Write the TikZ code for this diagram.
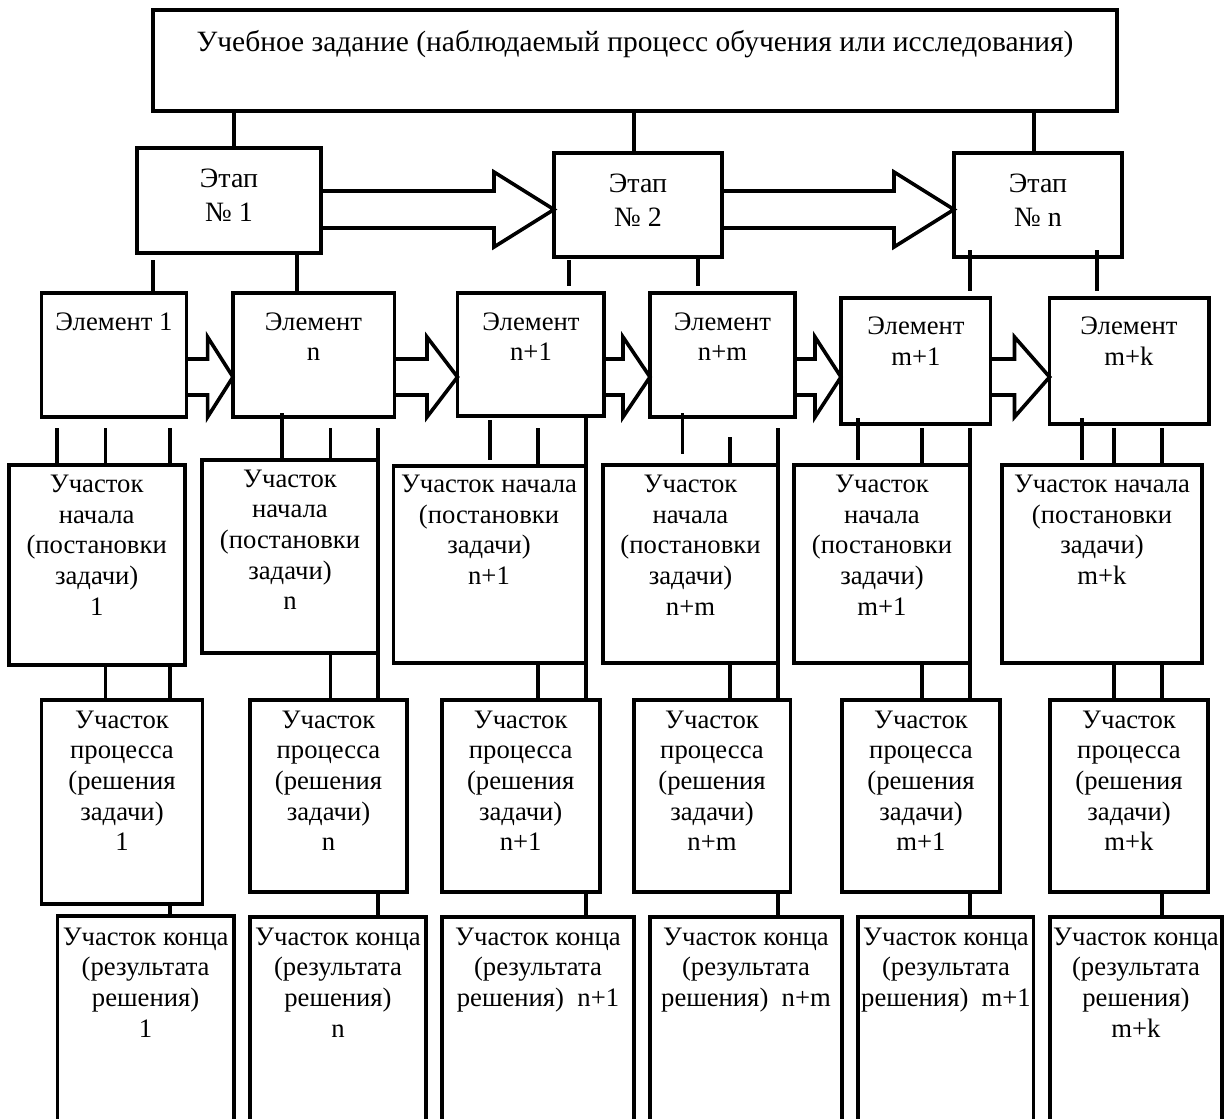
\documentclass[tikz,border=0pt]{standalone}
\usepackage{fontspec}
\setmainfont{Liberation Serif}
\usetikzlibrary{calc}

% box with corners (x1,y1) and (x2,y2), y measured downwards
\newcommand\blk[5]{\node[frame, minimum width={(#4-#2)*0.75pt}, minimum height={(#5-#3)*0.75pt}] (#1) at (#2,#3) {};}
% hollow block arrow from node #1 to node #2: head base x, centre y, half body, half head
\newcommand\fatarrow[6]{\draw[wire, line join=miter]
  (#1.east |- 0,#4-#5) -- (#3,#4-#5) -- (#3,#4-#6) -- (#2.west |- 0,#4)
  -- (#3,#4+#6) -- (#3,#4+#5) -- (#1.east |- 0,#4+#5);}

\begin{document}
\begin{tikzpicture}[x=0.75pt,y=-0.75pt,
  frame/.style={draw, line width=2.7pt, rectangle, inner sep=0pt, outer sep=0pt, anchor=north west},
  wire/.style={line width=2.7pt},
  txt/.style={align=center, inner sep=0pt, anchor=north, font=\fontsize{20}{23}\selectfont},
  stagetxt/.style={txt, font=\fontsize{21}{25.5}\selectfont},
  titletxt/.style={txt, font=\fontsize{22.1}{26}\selectfont}]
\path[use as bounding box] (0,0) rectangle (1225,1118);
\clip (0,0) rectangle (1225,1118);

% ---- task and stages
\blk{T}{153}{10}{1117}{111}
\node[titletxt] (Tt) at (635,26.5) {\strut Учебное задание (наблюдаемый процесс обучения или исследования)};

\blk{S1}{137}{148}{321}{253}
\blk{S2}{554}{153}{722}{257}
\blk{Sn}{954}{153}{1122}{257}
\node[stagetxt] (S1t) at (229,163.2) {\strut Этап\\№ 1};
\node[stagetxt] (S2t) at (638,168) {\strut Этап\\№ 2};
\node[stagetxt] (Snt) at (1038,168) {\strut Этап\\№ n};

\draw[wire] (234,0 |- T.south) -- (234,0 |- S1.north);
\draw[wire] (634,0 |- T.south) -- (634,0 |- S2.north);
\draw[wire] (1034,0 |- T.south) -- (1034,0 |- Sn.north);

\fatarrow{S1}{S2}{494}{209.5}{18.5}{37.5}
\fatarrow{S2}{Sn}{894}{209.5}{18.5}{37.5}

% ---- elements
\blk{E1}{41.5}{292.7}{186.6}{417}
\blk{En}{233}{292.7}{394.6}{417}
\blk{Enp}{457.5}{292.7}{604}{416}
\blk{Enm}{650}{292.7}{795}{417}
\blk{Emp}{841}{298}{990.6}{424}
\blk{Emk}{1049.6}{298}{1209}{424}
\node[txt] (E1t) at (114,308.5) {\strut Элемент 1};
\node[txt] (Ent) at (313.5,308.5) {\strut Элемент\\n};
\node[txt] (Enpt) at (531,308.5) {\strut Элемент\\n+1};
\node[txt] (Enmt) at (722.5,308.5) {\strut Элемент\\n+m};
\node[txt] (Empt) at (916,313) {\strut Элемент\\m+1};
\node[txt] (Emkt) at (1129,313) {\strut Элемент\\m+k};

\draw[wire] (153,260) -- (153,0 |- E1.north);
\draw[wire] (297,0 |- S1.south) -- (297,0 |- En.north);
\draw[wire] (569,260) -- (569,286);
\draw[wire] (698,0 |- S2.south) -- (698,286);
\draw[wire] (970,250) -- (970,291);
\draw[wire] (1097,250) -- (1097,291);

\fatarrow{E1}{En}{207.6}{377}{18}{40}
\fatarrow{En}{Enp}{427}{377}{18}{40}
\fatarrow{Enp}{Enm}{623}{377}{18}{40}
\fatarrow{Enm}{Emp}{815}{377}{18}{40}
\fatarrow{Emp}{Emk}{1014.5}{377}{18}{40}

% ---- start sections
\blk{U1}{8.7}{465}{184.7}{665}
\blk{Un}{201.7}{460}{378}{653}
\blk{Unp}{393.4}{466}{586}{663}
\blk{Unm}{603}{465}{778}{663}
\blk{Ump}{794}{465}{970}{663}
\blk{Umk}{1001.8}{465}{1202}{663}
\node[txt] (U1t) at (96.7,470.8) {\strut Участок\\начала\\(постановки\\задачи)\\1};
\node[txt] (Unt) at (290,465.5) {\strut Участок\\начала\\(постановки\\задачи)\\n};
\node[txt] (Unpt) at (489,470.8) {\strut Участок начала\\(постановки\\задачи)\\n+1};
\node[txt] (Unmt) at (690.5,470.8) {\strut Участок\\начала\\(постановки\\задачи)\\n+m};
\node[txt] (Umpt) at (882,470.8) {\strut Участок\\начала\\(постановки\\задачи)\\m+1};
\node[txt] (Umkt) at (1102,470.8) {\strut Участок начала\\(постановки\\задачи)\\m+k};

% ---- process sections
\blk{P1}{41.5}{700}{202.5}{904}
\blk{Pn}{250}{700}{407}{892}
\blk{Pnp}{441.7}{700}{599.8}{892}
\blk{Pnm}{634}{700}{790.5}{892}
\blk{Pmp}{842}{700}{1000}{892}
\blk{Pmk}{1050}{700}{1208}{892}
\node[txt] (P1t) at (122,706.5) {\strut Участок\\процесса\\(решения\\задачи)\\1};
\node[txt] (Pnt) at (328.5,706.5) {\strut Участок\\процесса\\(решения\\задачи)\\n};
\node[txt] (Pnpt) at (520.7,706.5) {\strut Участок\\процесса\\(решения\\задачи)\\n+1};
\node[txt] (Pnmt) at (712,706.5) {\strut Участок\\процесса\\(решения\\задачи)\\n+m};
\node[txt] (Pmpt) at (921,706.5) {\strut Участок\\процесса\\(решения\\задачи)\\m+1};
\node[txt] (Pmkt) at (1129,706.5) {\strut Участок\\процесса\\(решения\\задачи)\\m+k};

% ---- end sections (open below the frame)
\blk{K1}{57.3}{916}{234}{1140}
\blk{Kn}{250}{917}{426}{1140}
\blk{Knp}{441.7}{917}{634}{1140}
\blk{Knm}{650}{917}{842}{1140}
\blk{Kmp}{858}{917}{1033.6}{1140}
\blk{Kmk}{1050}{917}{1221.8}{1140}
\node[txt] (K1t) at (145.6,923.5) {\strut Участок конца\\(результата\\решения)\\1};
\node[txt] (Knt) at (338,923.5) {\strut Участок конца\\(результата\\решения)\\n};
\node[txt] (Knpt) at (538,923.5) {\strut Участок конца\\(результата\\решения)\ \ n+1};
\node[txt] (Knmt) at (746,923.5) {\strut Участок конца\\(результата\\решения)\ \ n+m};
\node[txt] (Kmpt) at (946,923.5) {\strut Участок конца\\(результата\\решения)\ \ m+1};
\node[txt] (Kmkt) at (1136,923.5) {\strut Участок конца\\(результата\\решения)\\m+k};

% ---- element to start-section links
\draw[wire] (57,428) -- (57,0 |- U1.north);
\draw[wire] (105.6,428) -- (105.6,0 |- U1.north);
\draw[wire] (170,428) -- (170,0 |- U1.north);
\draw[wire] (282,413) -- (282,0 |- Un.north);
\draw[wire] (330.6,428) -- (330.6,0 |- Un.north);
\draw[wire] (378,428) -- (378,0 |- Pn.north);
\draw[wire] (490,420) -- (490,460);
\draw[wire] (537.8,428) -- (537.8,0 |- Unp.north);
\draw[wire] (586,418) -- (586,0 |- Pnp.north);
\draw[wire] (682.5,413) -- (682.5,454);
\draw[wire] (730,437) -- (730,0 |- Unm.north);
\draw[wire] (778,428) -- (778,0 |- Pnm.north);
\draw[wire] (858,418) -- (858,460);
\draw[wire] (922,428) -- (922,0 |- Ump.north);
\draw[wire] (970,428) -- (970,0 |- Pmp.north);
\draw[wire] (1082,418) -- (1082,460);
\draw[wire] (1114,428) -- (1114,0 |- Umk.north);
\draw[wire] (1162,428) -- (1162,0 |- Umk.north);

% ---- start to process links
\draw[wire] (105.6,0 |- U1.south) -- (105.6,0 |- P1.north);
\draw[wire] (170,0 |- U1.south) -- (170,0 |- P1.north);
\draw[wire] (330.6,0 |- Un.south) -- (330.6,0 |- Pn.north);
\draw[wire] (537.8,0 |- Unp.south) -- (537.8,0 |- Pnp.north);
\draw[wire] (730,0 |- Unm.south) -- (730,0 |- Pnm.north);
\draw[wire] (922,0 |- Ump.south) -- (922,0 |- Pmp.north);
\draw[wire] (1114,0 |- Umk.south) -- (1114,0 |- Pmk.north);
\draw[wire] (1162,0 |- Umk.south) -- (1162,0 |- Pmk.north);

% ---- process to end links
\draw[wire] (170,0 |- P1.south) -- (170,0 |- K1.north);
\draw[wire] (378,0 |- Pn.south) -- (378,0 |- Kn.north);
\draw[wire] (586,0 |- Pnp.south) -- (586,0 |- Knp.north);
\draw[wire] (778,0 |- Pnm.south) -- (778,0 |- Knm.north);
\draw[wire] (970,0 |- Pmp.south) -- (970,0 |- Kmp.north);
\draw[wire] (1162,0 |- Pmk.south) -- (1162,0 |- Kmk.north);
\end{tikzpicture}
\end{document}
